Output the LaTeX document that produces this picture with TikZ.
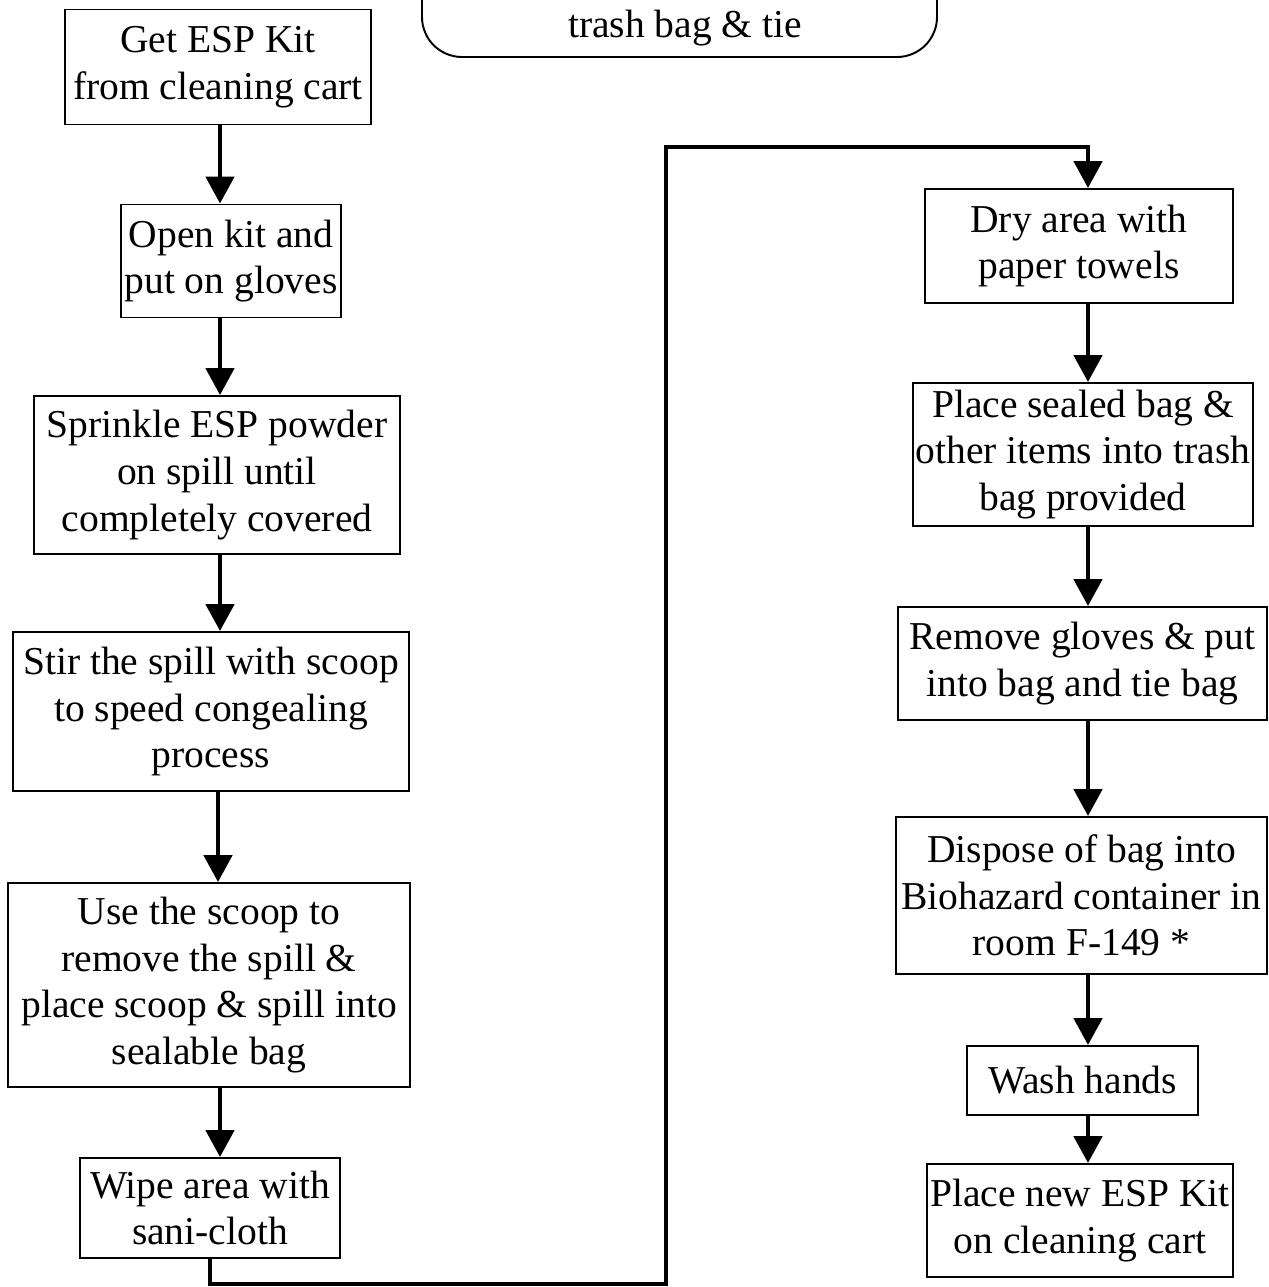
\documentclass[tikz,border=0pt]{standalone}
\usepackage{fontspec}
\setmainfont{Liberation Serif}
\usetikzlibrary{arrows.meta, positioning}

\begin{document}
\begin{tikzpicture}[x=0.02cm, y=-0.02cm,
    box/.style={draw, line width=1.1pt, align=center, inner sep=0pt,
      font=\fontsize{22.5}{26.6}\selectfont},
    flow/.style={line width=2.8pt, -{Triangle[length=0.54cm, width=0.56cm]}}]
        \useasboundingbox (0, 0) rectangle (1268, 1287);

        % Riquadro in alto (tagliato)
        \draw[line width=1.1pt, rounded corners=0.8cm] (422, -80) -- (422, 57) -- (937, 57) -- (937, -80);
        \node[font=\fontsize{22.5}{26.6}\selectfont, anchor=base] (supplies) at (685, 38) {trash bag \& tie};

        % Colonna sinistra
        \node[box, minimum width=6.12cm, minimum height=2.3cm] (getkit) at (218, 67) {Get ESP Kit\\from cleaning cart};
        \node[box, minimum width=4.4cm, minimum height=2.26cm] (gloves) at (231, 261) {Open kit and\\put on gloves};
        \node[box, minimum width=7.32cm, minimum height=3.16cm] (sprinkle) at (217, 475) {Sprinkle ESP powder\\on spill until\\completely covered};
        \node[box, minimum width=7.92cm, minimum height=3.18cm] (stir) at (211, 711.5) {Stir the spill with scoop\\to speed congealing\\process};
        \node[box, minimum width=8.04cm, minimum height=4.08cm] (scoop) at (209, 985) {Use the scoop to\\remove the spill \&\\place scoop \& spill into\\sealable bag};
        \node[box, minimum width=5.2cm, minimum height=2.0cm] (wipe) at (210, 1208) {Wipe area with\\sani-cloth};

        % Colonna destra
        \node[box, minimum width=6.16cm, minimum height=2.28cm] (dry) at (1079, 246) {Dry area with\\paper towels};
        \node[box, minimum width=6.8cm, minimum height=2.86cm] (sealed) at (1083, 454.5) {Place sealed bag \&\\other items into trash\\bag provided};
        \node[box, minimum width=7.38cm, minimum height=2.26cm] (remove) at (1082.5, 663.5) {Remove gloves \& put\\into bag and tie bag};
        \node[box, minimum width=7.42cm, minimum height=3.14cm] (dispose) at (1081.5, 895.5) {Dispose of bag into\\Biohazard container in\\room F-149 *};
        \node[box, minimum width=4.62cm, minimum height=1.38cm] (wash) at (1082.5, 1080.5) {Wash hands};
        \node[box, minimum width=6.12cm, minimum height=2.26cm] (newkit) at (1080, 1220.5) {Place new ESP Kit\\on cleaning cart};

        % Frecce
        \draw[flow] (getkit.south -| 220, 0) -- (gloves.north -| 220, 0);
        \draw[flow] (gloves.south -| 220, 0) -- (sprinkle.north -| 220, 0);
        \draw[flow] (sprinkle.south -| 220, 0) -- (stir.north -| 220, 0);
        \draw[flow] (stir.south -| 218, 0) -- (scoop.north -| 218, 0);
        \draw[flow] (scoop.south -| 220, 0) -- (wipe.north -| 220, 0);
        \draw[flow] (dry.south -| 1088, 0) -- (sealed.north -| 1088, 0);
        \draw[flow] (sealed.south -| 1088, 0) -- (remove.north -| 1088, 0);
        \draw[flow] (remove.south -| 1088, 0) -- (dispose.north -| 1088, 0);
        \draw[flow] (dispose.south -| 1088, 0) -- (wash.north -| 1088, 0);
        \draw[flow] (wash.south -| 1088, 0) -- (newkit.north -| 1088, 0);

        % Collegamento tra le colonne
        \draw[flow] (wipe.south) -- ++(0, 25) -| (666, 147) -| (dry.north -| 1088, 0);
      \end{tikzpicture}
\end{document}
